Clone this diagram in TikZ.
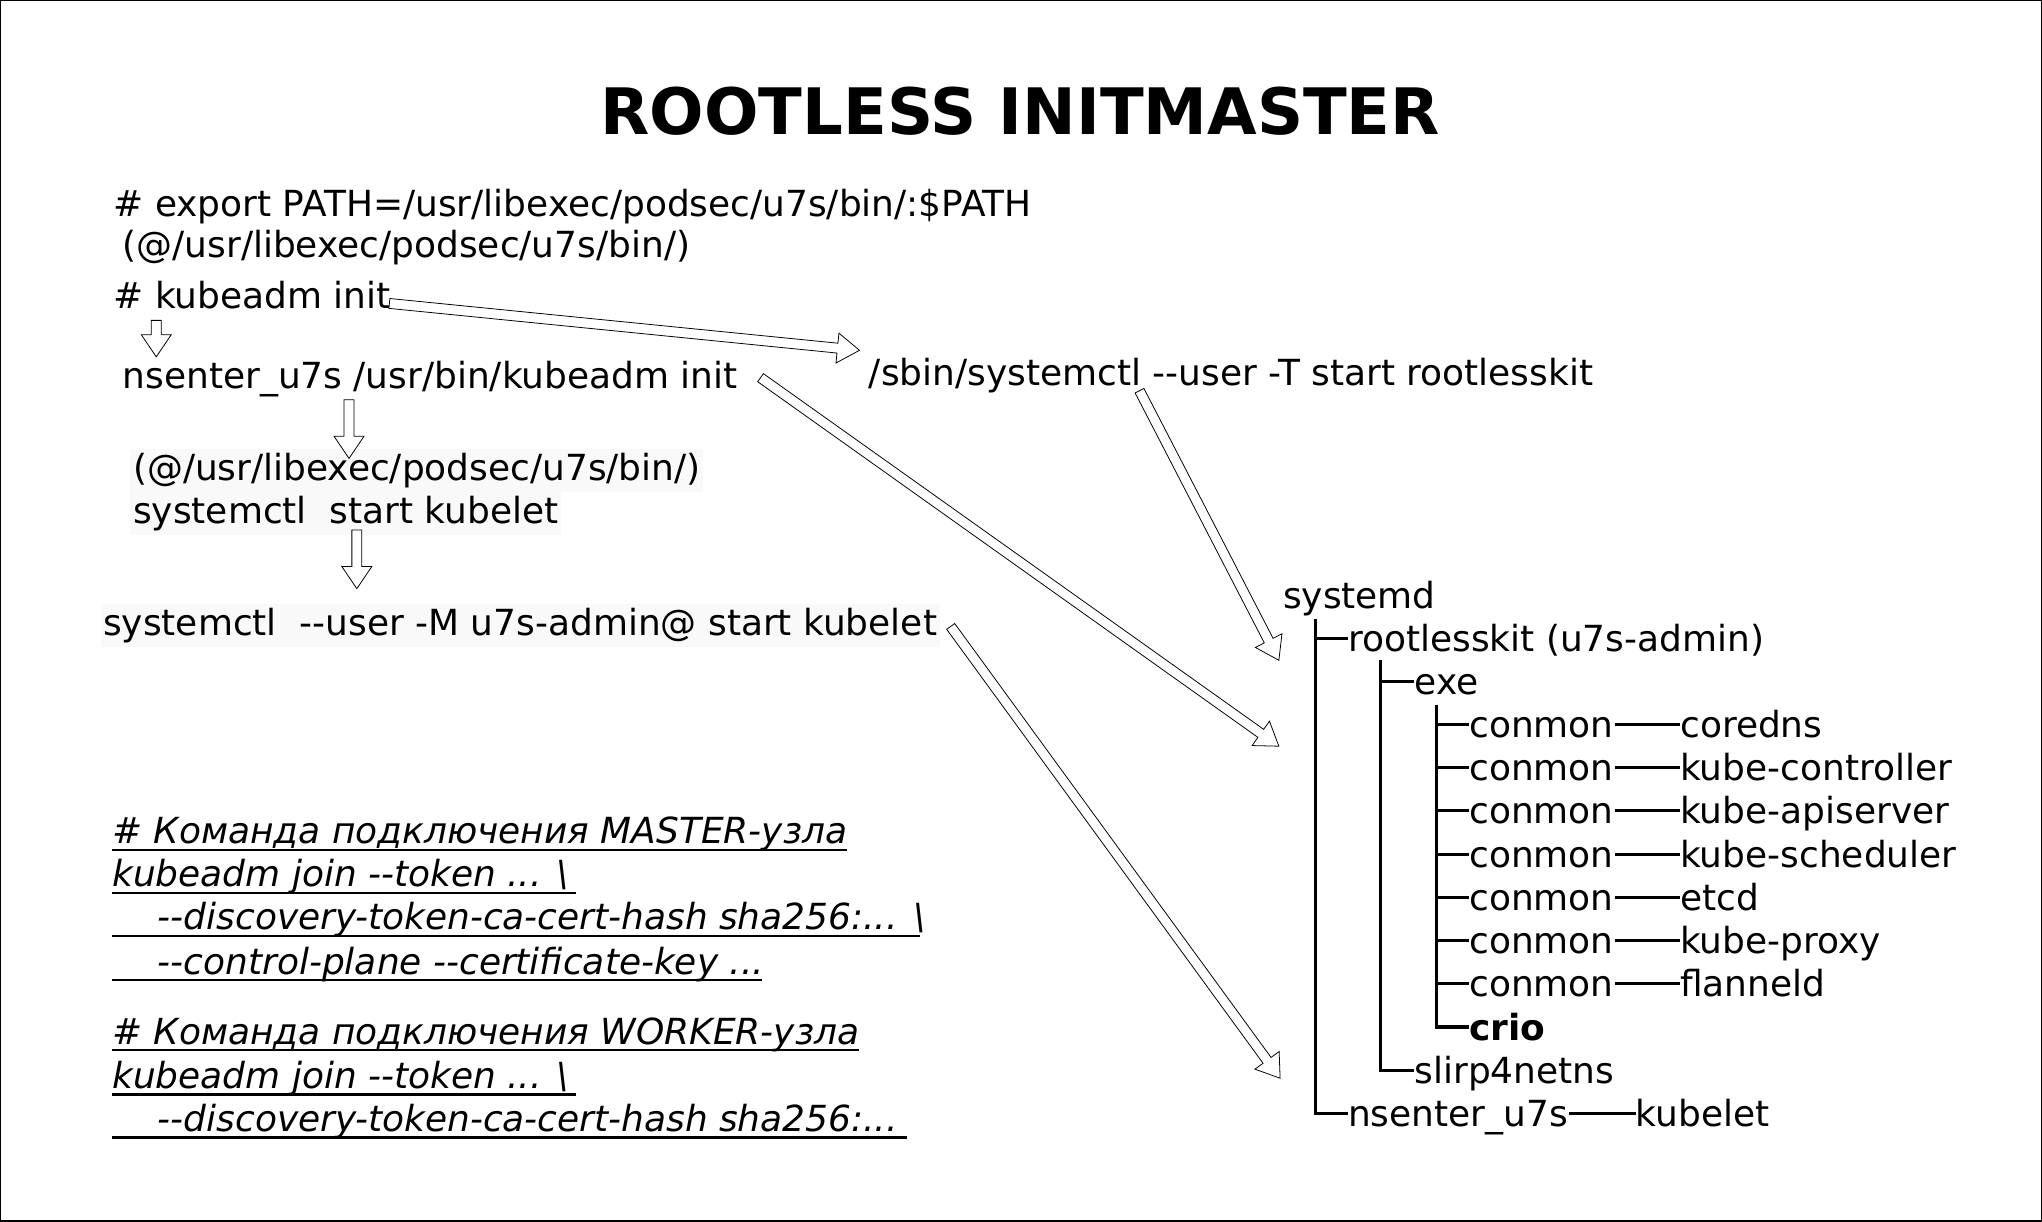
\documentclass[tikz,border=0pt]{standalone}
\usepackage{fontspec}
\newfontfamily\dv{DejaVu Sans}
\usetikzlibrary{calc}
\newcommand\tfont{\dv\fontsize{27.6pt}{32pt}\selectfont}
\newcommand\titlefont{\dv\bfseries\fontsize{49.2pt}{58pt}\selectfont}
% hollow block arrow from coordinate #1 to coordinate #2
\newcommand\hollowarrow[2]{%
  \pgfpointdiff{\pgfpointanchor{#1}{center}}{\pgfpointanchor{#2}{center}}%
  \pgfgetlastxy{\ax}{\ay}%
  \pgfmathsetmacro\arrang{atan2(\ay,\ax)}%
  \pgfmathsetmacro\arrlen{veclen(\ax,\ay)}%
  \begin{scope}[shift={(#1)},rotate=\arrang]
    \draw[harrow] (0,-3.8) -- (\arrlen-17,-3.8) -- (\arrlen-17,-11.5) -- (\arrlen,0)
      -- (\arrlen-17,11.5) -- (\arrlen-17,3.8) -- (0,3.8) -- cycle;
  \end{scope}}
\begin{document}
\begin{tikzpicture}[x=1pt,y=-1pt,
  txt/.style={anchor=base west,inner sep=0pt,font=\tfont},
  shade/.style={txt,fill=black!2.5,inner xsep=2pt,text height=24pt,text depth=9pt},
  itxt/.style={txt,font=\tfont\itshape},
  ul/.style={line width=1.7pt},
  tree/.style={line width=2.4pt},
  harrow/.style={draw=black,fill=white,line width=0.6pt,line join=miter}]
\useasboundingbox (0,0) rectangle (1568,938);
\draw[line width=1pt] (0.5,0.5) rectangle (1567.5,937.5);

\node[anchor=base,inner sep=0pt,font=\titlefont] (title) at (783.5,103) {ROOTLESS INITMASTER};

% left column
\node[txt] (exp) at (87,166) {\# export PATH=/usr/libexec/podsec/u7s/bin/:\$PATH};
\node[txt] (at1) at (94,198) {(@/usr/libexec/podsec/u7s/bin/)};
\node[txt] (kinit) at (87,237) {\# kubeadm init};
\node[txt] (nsk) at (94,298) {nsenter\_u7s /usr/bin/kubeadm init};
\node[shade] (at2) at (100,369) {(@/usr/libexec/podsec/u7s/bin/)};
\node[shade] (sk) at (100,402) {systemctl\ \ start kubelet};
\node[shade] (suk) at (77,488) {systemctl\ \ --user -M u7s-admin@ start kubelet};
\node[txt] (sbin) at (667,296) {/sbin/systemctl --user -T start rootlesskit};

% join commands
\node[itxt] (m1) at (86,648) {\# Команда подключения MASTER-узла};
\node[itxt] (m2) at (86,681) {kubeadm join --token ... \textbackslash};
\node[itxt] (m3) at (86,714) {\hspace*{35pt}--discovery-token-ca-cert-hash sha256:... \textbackslash};
\node[itxt] (m4) at (86,748) {\hspace*{35pt}--control-plane --certificate-key ...};
\node[itxt] (w1) at (86,802) {\# Команда подключения WORKER-узла};
\node[itxt] (w2) at (86,836) {kubeadm join --token ... \textbackslash};
\node[itxt] (w3) at (86,869) {\hspace*{35pt}--discovery-token-ca-cert-hash sha256:...};
\foreach \n/\e in {m1/0,m2/5,m3/-4,m4/-2,w1/0,w2/5,w3/7}
  \draw[ul] ([yshift=-4.5pt]\n.base west) -- ([yshift=-4.5pt,xshift=\e pt]\n.base east);

% process tree
\node[txt] (sysd) at (985,467) {systemd};
\node[txt] (rk) at (1035,500) {rootlesskit (u7s-admin)};
\node[txt] (exe) at (1086,533) {exe};
\foreach \i/\name in {1/coredns,2/kube-controller,3/kube-apiserver,4/kube-scheduler,5/etcd,6/kube-proxy,7/flanneld}{
  \node[txt] (c\i) at (1128,{533+33.2*\i}) {conmon};
  \node[txt] (p\i) at (1290,{533+33.2*\i}) {\name};
  \draw[tree] ([xshift=1pt,yshift=10pt]c\i.base east) -- ([yshift=10pt]p\i.base west);
}
\node[txt,font=\tfont\bfseries] (crio) at (1128,798.6) {crio};
\node[txt] (slirp) at (1086,831.8) {slirp4netns};
\node[txt] (nsu) at (1035,865) {nsenter\_u7s};
\node[txt] (kl) at (1256,865) {kubelet};
\draw[tree] ([xshift=1pt,yshift=10pt]nsu.base east) -- ([yshift=10pt]kl.base west);

\coordinate (v1) at (1010,475);
\coordinate (v2) at (1060,507);
\coordinate (v3) at (1103,541);
\draw[tree] (v1) |- ([yshift=10pt]nsu.base west);
\draw[tree] (v1 |- rk.base) ++(0,-10) -- ([yshift=10pt]rk.base west);
\draw[tree] (v2) |- ([yshift=10pt]slirp.base west);
\draw[tree] (v2 |- exe.base) ++(0,-10) -- ([yshift=10pt]exe.base west);
\draw[tree] (v3) |- ([yshift=10pt]crio.base west);
\foreach \i in {1,...,7}
  \draw[tree] (v3 |- c\i.base) ++(0,-10) -- ([yshift=10pt]c\i.base west);

% arrows
\coordinate (a1s) at (299,233); \coordinate (a1e) at (660,269);
\coordinate (a2s) at (120,246); \coordinate (a2e) at (120,274);
\coordinate (a3s) at (268,307); \coordinate (a3e) at (268,352);
\coordinate (a4s) at (274,407); \coordinate (a4e) at (274,452);
\coordinate (a5s) at (584,290); \coordinate (a5e) at (982,573);
\coordinate (a6s) at (875,300); \coordinate (a6e) at (982,507);
\coordinate (a7s) at (730,481); \coordinate (a7e) at (983,828);
\hollowarrow{a1s}{a1e}
\hollowarrow{a2s}{a2e}
\hollowarrow{a3s}{a3e}
\hollowarrow{a4s}{a4e}
\hollowarrow{a5s}{a5e}
\hollowarrow{a6s}{a6e}
\hollowarrow{a7s}{a7e}
\end{tikzpicture}
\end{document}
